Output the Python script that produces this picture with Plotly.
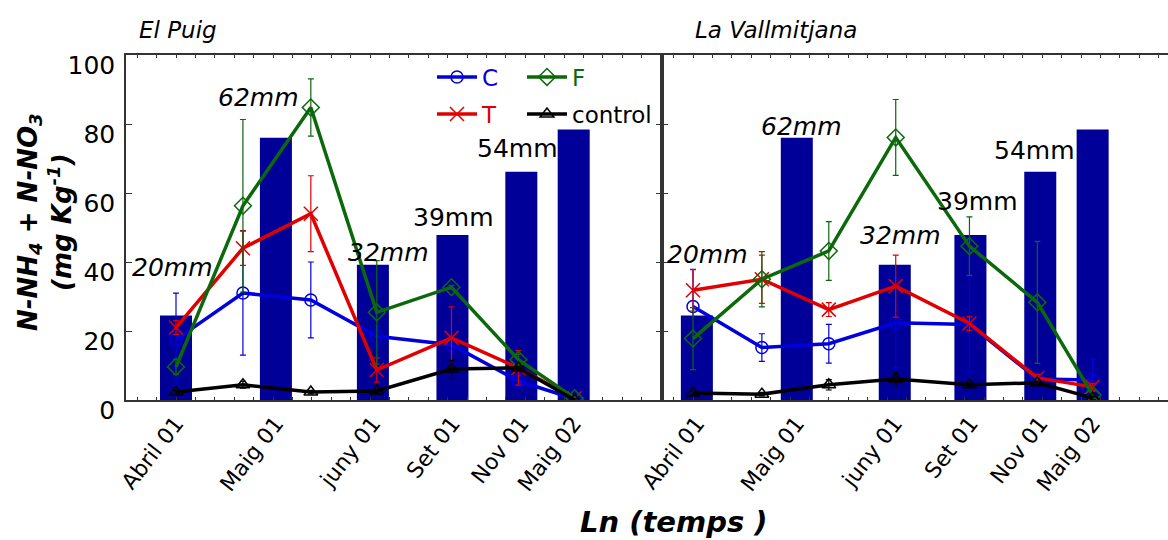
import plotly.graph_objects as go

W, H = 1168, 540

# ---- data -------------------------------------------------------------
# sampling times on the Ln(temps) axis for each site
t_puig = [0, 0.69, 1.39, 2.07, 2.84, 3.53, 4.11]
t_vall = [0, 0.71, 1.40, 2.09, 2.85, 3.55, 4.12]

# rainfall events (mm) and their position on the time axis
rain_mm = [20, 62, 32, 39, 54, 64]
rain_t_puig = [0, 1.03, 2.03, 2.85, 3.56, 4.10]
rain_t_vall = [0.04, 1.07, 2.08, 2.86, 3.58, 4.12]
date_labels = ["Abril 01", "Maig 01", "juny 01", "Set 01", "Nov 01", "Maig 02"]

# N-NH4 + N-NO3 (mg Kg-1), El Puig
puig_C = [17.5, 31, 29, 18.5, 16, 5.5, 0.3]
puig_C_err = [13.5, 18, 11, 3, 2, 1.5, 0.5]
puig_T = [21, 44, 54, 8.7, 18, 9.3, 0.5]
puig_T_err = [2, 5, 11, 3.5, 9, 5, 0.5]
puig_F = [9.6, 56.3, 84.8, 25.4, 32.7, 11.7, 0.5]
puig_F_err = [2.2, 25, 8.3, 15, 0.5, 1.5, 0.5]
puig_ctrl = [2.3, 4.4, 2.3, 2.6, 9, 9.3, 0]
puig_ctrl_err = [0.5, 1, 0.5, 0.5, 2.5, 0.5, 0.3]

# N-NH4 + N-NO3 (mg Kg-1), La Vallmitjana
vall_C = [27.1, 15.2, 16.3, 22.4, 21.9, 6.1, 5.8]
vall_C_err = [10.8, 4, 5.6, 13, 14, 1, 6]
vall_T = [31.8, 35, 26.2, 33, 22.2, 6.4, 3.8]
vall_T_err = [6, 7, 2, 9, 2, 1, 1]
vall_F = [17.8, 35, 43.2, 76.1, 44.6, 28.3, 1.5]
vall_F_err = [9, 8, 8.5, 11, 8.5, 17.7, 1]
vall_ctrl = [2, 1.7, 4.4, 6.1, 4.4, 5, 0.6]
vall_ctrl_err = [0.5, 0.5, 1.5, 2, 0.5, 0.5, 0.5]

# rainfall label placement (time, N-axis value) per site
rain_lbl_t_puig = [-0.04, 0.85, 2.19, 2.86, 3.52]
rain_lbl_y_puig = [38.3, 87.8, 42.9, 53.0, 73.0]
rain_lbl_t_vall = [0.15, 1.12, 2.14, 2.93, 3.52]
rain_lbl_y_vall = [42.3, 79.4, 47.8, 57.4, 72.2]
rain_lbl_italic = [True, True, True, False, False]

# ---- styling ----------------------------------------------------------
FONT = "DejaVu Sans"
BLUE, RED, GREEN, BLACK, NAVY = "#0000dd", "#e00000", "#0b680b", "#000000", "#000099"
FRAME = "#333333"
RAIN_MAX = 81.6

series_style = {
    "C": dict(color=BLUE, symbol="circle-open", size=12),
    "T": dict(color=RED, symbol="x-thin-open", size=14),
    "F": dict(color=GREEN, symbol="diamond-open", size=13),
    "control": dict(color=BLACK, symbol="triangle-up-open", size=12),
}
# one single-entry legend per series, laid out as a 2x2 key
legend_of = {"C": "legend", "F": "legend2", "T": "legend3", "control": "legend4"}

fig = go.Figure()

def add_site(t, rain_t, series, xa, ya_rain, ya_n, show_legend):
    fig.add_trace(go.Bar(
        x=rain_t, y=rain_mm, width=0.33, marker=dict(color=NAVY, line=dict(width=0)),
        xaxis=xa, yaxis=ya_rain, showlegend=False, hoverinfo="skip"))
    for name, (vals, errs) in series.items():
        st = series_style[name]
        fig.add_trace(go.Scatter(
            x=t, y=vals, mode="lines+markers",
            name=f"<span style='color:{st['color']}'>{name}</span>",
            line=dict(color=st["color"], width=3.5),
            marker=dict(symbol=st["symbol"], size=st["size"], color=st["color"],
                        line=dict(color=st["color"], width=1.5)),
            error_y=dict(type="data", array=errs, color=st["color"], thickness=1.2, width=3),
            xaxis=xa, yaxis=ya_n, showlegend=show_legend, legend=legend_of[name]))

add_site(t_puig, rain_t_puig, {
    "C": (puig_C, puig_C_err), "T": (puig_T, puig_T_err),
    "F": (puig_F, puig_F_err), "control": (puig_ctrl, puig_ctrl_err)},
    "x", "y", "y3", True)
add_site(t_vall, rain_t_vall, {
    "C": (vall_C, vall_C_err), "T": (vall_T, vall_T_err),
    "F": (vall_F, vall_F_err), "control": (vall_ctrl, vall_ctrl_err)},
    "x2", "y2", "y4", False)

# ---- axes -------------------------------------------------------------
px_per_unit = 97.0
left_dom = [126 / W, 662 / W]
right_dom = [662 / W, 1.0]
y_dom = [1 - 400 / H, 1 - 55 / H]
left_rng = [(126 - 176) / px_per_unit, (662 - 176) / px_per_unit]
right_rng = [(662 - 693) / px_per_unit, (1168 - 693) / px_per_unit]

def label_axis(dom, rng, anchor, tickvals):
    return dict(domain=dom, range=rng, anchor=anchor, tickmode="array",
                tickvals=tickvals, ticktext=date_labels, ticks="inside", ticklen=0,
                tickangle=-52, tickfont=dict(family=FONT, size=22, color="black"),
                minor=dict(ticks="inside", ticklen=3, tickwidth=1, tickcolor=FRAME,
                           tick0=0, dtick=0.2),
                showline=True, linecolor=FRAME, linewidth=1.5, mirror="ticks",
                showgrid=False, zeroline=False, automargin=False)

def major_axis(over, rng, anchor):
    return dict(overlaying=over, range=rng, anchor=anchor, tickmode="array",
                tickvals=[0, 1, 2, 3, 4, 5], ticks="inside", ticklen=6, tickwidth=1,
                tickcolor=FRAME, showticklabels=False, mirror="ticks",
                showline=False, showgrid=False, zeroline=False, automargin=False)

fig.update_layout(
    xaxis=label_axis(left_dom, left_rng, "y", rain_t_puig),
    xaxis2=label_axis(right_dom, right_rng, "y2", rain_t_vall),
    xaxis3=major_axis("x", left_rng, "y"),
    xaxis4=major_axis("x2", right_rng, "y2"),
    yaxis=dict(domain=y_dom, range=[0, RAIN_MAX], anchor="x", visible=False,
               automargin=False),
    yaxis2=dict(domain=y_dom, range=[0, RAIN_MAX], anchor="x2", visible=False,
                automargin=False),
    yaxis3=dict(overlaying="y", range=[0, 100], anchor="x", tickvals=[0, 20, 40, 60, 80, 100],
                ticks="inside", ticklen=6, tickwidth=1, tickcolor=FRAME,
                tickfont=dict(family=FONT, size=25, color="black"), ticklabelshift=10,
                ticklabelstandoff=4,
                showline=True, linecolor=FRAME, linewidth=1.5, mirror="ticks",
                showgrid=False, zeroline=False, automargin=False),
    yaxis4=dict(overlaying="y2", range=[0, 100], anchor="x2", tickvals=[0, 20, 40, 60, 80, 100],
                ticks="inside", ticklen=6, tickwidth=1, tickcolor=FRAME,
                showticklabels=False, showline=True, linecolor=FRAME, linewidth=1.5,
                mirror=False, showgrid=False, zeroline=False, automargin=False),
)

# ---- legend key -------------------------------------------------------
legend_common = dict(orientation="h", xanchor="left", yanchor="middle",
                     bgcolor="rgba(0,0,0,0)", font=dict(family=FONT, size=23),
                     itemwidth=40)
fig.update_layout(
    legend=dict(x=432 / W, y=1 - 77 / H, **legend_common),
    legend2=dict(x=522 / W, y=1 - 77 / H, **legend_common),
    legend3=dict(x=432 / W, y=1 - 114 / H, **legend_common),
    legend4=dict(x=522 / W, y=1 - 114 / H, **legend_common),
)

# ---- text -------------------------------------------------------------
ann = []
for t_list, y_list, xr, yr in [(rain_lbl_t_puig, rain_lbl_y_puig, "x", "y3"),
                               (rain_lbl_t_vall, rain_lbl_y_vall, "x2", "y4")]:
    for t, y, mm, it in zip(t_list, y_list, rain_mm, rain_lbl_italic):
        txt = f"{mm}mm"
        ann.append(dict(x=t, y=y, xref=xr, yref=yr, text=f"<i>{txt}</i>" if it else txt,
                        showarrow=False, font=dict(family=FONT, size=25, color="black"),
                        xanchor="center", yanchor="middle"))

ann += [
    dict(x=137 / W, y=1 - 30 / H, xref="paper", yref="paper", text="<i>El Puig</i>",
         showarrow=False, xanchor="left", yanchor="middle",
         font=dict(family=FONT, size=23, color="black")),
    dict(x=693 / W, y=1 - 30 / H, xref="paper", yref="paper", text="<i>La Vallmitjana</i>",
         showarrow=False, xanchor="left", yanchor="middle",
         font=dict(family=FONT, size=23, color="black")),
    dict(x=45 / W, y=1 - 222 / H, xref="paper", yref="paper", textangle=-90,
         text="<b><i>N-NH<sub>4</sub> + N-NO<sub>3</sub></i></b><br>"
              "<b><i>(mg Kg<sup>-1</sup>)</i></b>",
         showarrow=False, xanchor="center", yanchor="middle",
         font=dict(family=FONT, size=26, color="black")),
    dict(x=674 / W, y=1 - 522 / H, xref="paper", yref="paper",
         text="<b><i>Ln (temps )</i></b>", showarrow=False,
         xanchor="center", yanchor="middle",
         font=dict(family=FONT, size=29, color="black")),
]

fig.update_layout(
    annotations=ann,
    width=W, height=H,
    margin=dict(l=0, r=0, t=0, b=0, autoexpand=False),
    paper_bgcolor="white", plot_bgcolor="white",
    barmode="overlay",
    font=dict(family=FONT, color="black"),
    showlegend=True,
)

fig.write_html("out.html", config={"displayModeBar": False})
